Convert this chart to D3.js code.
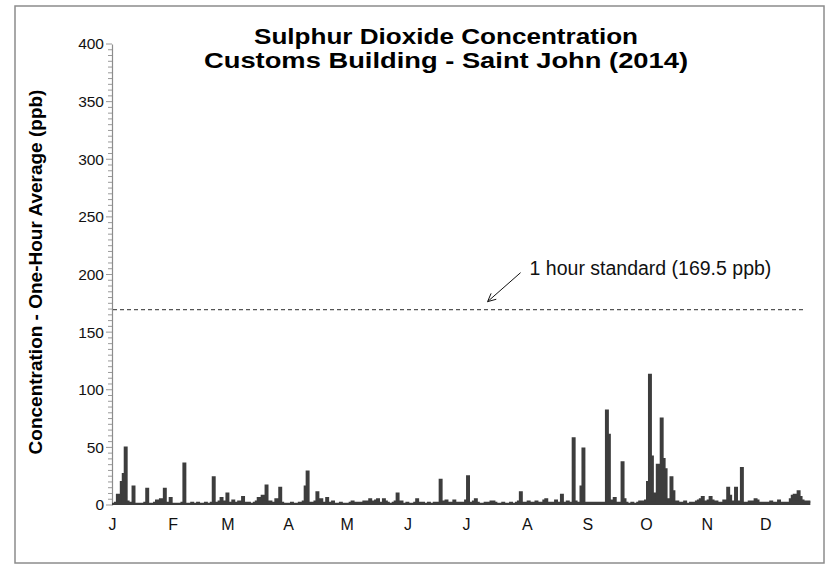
<!DOCTYPE html>
<html>
<head>
<meta charset="utf-8">
<script src="https://cdn.jsdelivr.net/npm/d3@7/dist/d3.min.js"></script>
<style>
  html, body { margin: 0; padding: 0; background: #fff; }
  svg text { font-family: "Liberation Sans", Arial, sans-serif; }
</style>
</head>
<body>
<svg id="chart" width="830" height="565"></svg>
<script>
// ---- Data (daily readings, ppb, starting 1 Jan 2014) ----
const startDate = "2014-01-01";
const dailyValues = [
  // Jan
  1,1,2,9,2,20,27,50,3,1,2,16,1,1,1,1,1,2,14,1,1,1,2,4,2,5,3,14,2,2,6,
  // Feb
  1,1,1,1,1,2,36,1,1,1,2,1,1,2,1,1,1,2,1,1,2,24,1,2,3,6,2,3,
  // Mar
  10,2,1,4,1,2,3,2,7,2,1,2,1,1,2,3,6,2,8,5,17,2,3,1,2,5,3,15,2,1,1,
  // Apr
  1,1,2,1,1,1,2,1,3,16,29,2,1,2,3,11,3,5,2,1,6,2,1,3,1,1,1,2,1,1,
  // May
  1,1,2,3,2,1,2,1,2,3,2,3,5,2,3,4,5,2,2,5,3,2,1,1,2,3,10,2,3,1,1,
  // Jun
  2,1,1,1,2,5,2,1,2,1,1,2,1,1,2,1,2,22,3,2,4,2,1,2,4,2,1,2,1,2,
  // Jul
  4,25,2,2,3,5,2,1,1,1,2,1,2,3,3,2,1,1,1,2,1,1,1,2,1,1,2,3,11,2,1,
  // Aug
  2,3,1,2,1,3,2,1,2,4,5,2,1,2,2,4,1,2,9,2,1,3,2,1,58,3,1,2,16,49,2,
  // Sep
  1,2,1,2,1,2,1,2,1,2,82,61,2,4,6,2,1,2,37,5,2,1,1,2,1,1,2,3,2,3,
  // Oct
  4,20,113,42,4,10,35,33,75,40,31,5,3,24,12,2,3,1,2,1,3,1,1,2,2,1,3,4,5,7,3,
  // Nov
  2,4,7,4,2,3,2,1,2,4,3,15,8,3,2,15,3,2,32,2,1,2,3,2,3,5,4,2,1,2,
  // Dec
  2,1,2,3,2,1,2,4,2,1,2,1,2,5,8,9,5,12,7,4,3,2,3,3
];
const monthLabels = ["J","F","M","A","M","J","J","A","S","O","N","D"];
const yTicks = [0,50,100,150,200,250,300,350,400];
const standardValue = 169.5;
const standardLabel = "1 hour standard (169.5 ppb)";
const titleLines = ["Sulphur Dioxide Concentration", "Customs Building - Saint John (2014)"];
const yAxisTitle = "Concentration - One-Hour Average (ppb)";

// ---- Build series ----
const t0 = new Date(startDate + "T00:00:00");
const series = dailyValues.map((v, i) => ({ date: d3.timeDay.offset(t0, i), value: v }));

const svg = d3.select("#chart");

// frame
svg.append("rect")
  .attr("x", 15).attr("y", 6).attr("width", 809).attr("height", 557)
  .attr("fill", "#fff").attr("stroke", "#8c8c8c").attr("stroke-width", 1.5);

const x = d3.scaleTime()
  .domain([t0, new Date("2015-01-01T00:00:00")])
  .range([112, 826]);
const y = d3.scaleLinear().domain([0, 400]).range([505, 44]);

// y axis minor ticks
const minor = d3.range(0, 401, 5);
svg.append("g").selectAll("line").data(minor).join("line")
  .attr("x1", d => d % 50 === 0 ? 106 : 108).attr("x2", 112)
  .attr("y1", d => y(d)).attr("y2", d => y(d))
  .attr("stroke", "#9a9a9a").attr("stroke-width", 1);

// y axis
const yAxis = d3.axisLeft(y).tickValues(yTicks).tickSize(0).tickPadding(8);
const gy = svg.append("g").attr("transform", "translate(112,0)").call(yAxis);
gy.select(".domain").attr("stroke", "#8c8c8c").attr("stroke-width", 1.2);
gy.selectAll("text").attr("font-size", 15.5).attr("fill", "#111")
  .attr("font-family", "'Liberation Sans', Arial, sans-serif");

// x axis labels (months)
const monthStarts = d3.timeMonth.range(t0, new Date("2015-01-01T00:00:00"));
const xAxis = d3.axisBottom(x).tickValues(monthStarts)
  .tickFormat((d, i) => monthLabels[i]).tickSize(0).tickPadding(14);
const gx = svg.append("g").attr("transform", "translate(0,505)").call(xAxis);
gx.select(".domain").remove();
gx.selectAll("text").attr("font-size", 16).attr("fill", "#111")
  .attr("font-family", "'Liberation Sans', Arial, sans-serif");

// standard dashed line
svg.append("line")
  .attr("x1", 113).attr("x2", 803)
  .attr("y1", y(standardValue)).attr("y2", y(standardValue))
  .attr("stroke", "#555").attr("stroke-width", 1.2)
  .attr("stroke-dasharray", "4,3");

// data (solid stepped trace)
const area = d3.area().x(d => x(d.date)).y0(y(0)).y1(d => y(d.value)).curve(d3.curveStep);
svg.append("path").datum(series)
  .attr("d", area).attr("fill", "#3d3d3d");
const line = d3.line().x(d => x(d.date)).y(d => y(d.value)).curve(d3.curveStep);
svg.append("path").datum(series)
  .attr("d", line)
  .attr("fill", "none").attr("stroke", "#3d3d3d")
  .attr("stroke-width", 2).attr("stroke-linejoin", "miter");

// annotation arrow
const tipX = x(new Date("2014-07-12T00:00:00")), tipY = y(standardValue) - 8;
const tailX = tipX + 33, tailY = tipY - 29;
svg.append("line").attr("x1", tailX).attr("y1", tailY).attr("x2", tipX).attr("y2", tipY)
  .attr("stroke", "#111").attr("stroke-width", 1);
const ang = Math.atan2(tipY - tailY, tipX - tailX);
[0.45, -0.45].forEach(a => {
  svg.append("line")
    .attr("x1", tipX).attr("y1", tipY)
    .attr("x2", tipX - 9 * Math.cos(ang + a)).attr("y2", tipY - 9 * Math.sin(ang + a))
    .attr("stroke", "#111").attr("stroke-width", 1);
});
svg.append("text").attr("x", tailX + 9).attr("y", tailY + 2)
  .attr("font-size", 19.5).attr("fill", "#111").text(standardLabel);

// title
const titleWidths = [384, 484];
svg.append("g").selectAll("text").data(titleLines).join("text")
  .attr("x", 446).attr("y", (d, i) => 44 + i * 24)
  .attr("text-anchor", "middle").attr("font-weight", "bold").attr("font-size", 22)
  .attr("textLength", (d, i) => titleWidths[i]).attr("lengthAdjust", "spacingAndGlyphs")
  .attr("fill", "#000").text(d => d);

// y axis title
svg.append("text")
  .attr("transform", "translate(42,272) rotate(-90)")
  .attr("text-anchor", "middle").attr("font-weight", "bold").attr("font-size", 19)
  .attr("fill", "#000").text(yAxisTitle);
</script>
</body>
</html>
